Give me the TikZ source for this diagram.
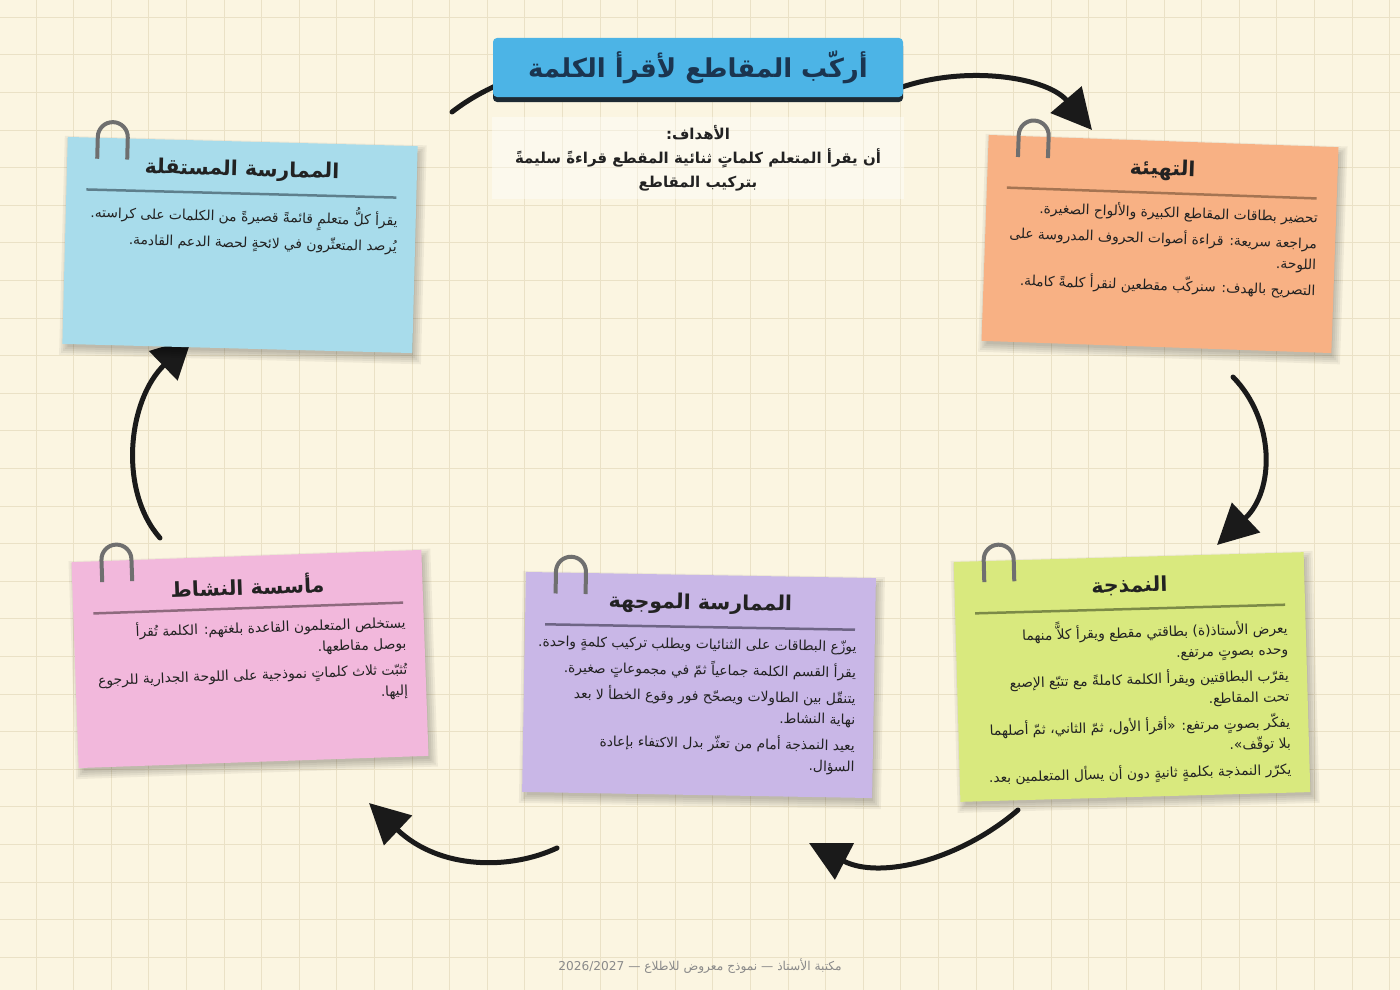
\documentclass[tikz,border=0pt]{standalone}
\usepackage{fontspec}
\setmainfont{DejaVu Sans}
\newfontfamily\ar[Script=Arabic]{DejaVu Sans}
\TeXXeTstate=1
\usetikzlibrary{arrows.meta}
\definecolor{bg}{HTML}{FBF5E1}
\definecolor{gridc}{HTML}{EAE1C6}
\definecolor{ink}{HTML}{222222}
\definecolor{navy}{HTML}{1B3550}
\definecolor{bannerc}{HTML}{4CB4E6}
\definecolor{bannerdark}{HTML}{1E2A33}
\definecolor{arrowc}{HTML}{1A1A1A}
\definecolor{clipc}{HTML}{6F6F6F}
\definecolor{footc}{HTML}{8A8A8A}
\definecolor{cblue}{HTML}{A8DCEB}
\definecolor{rblue}{HTML}{5E7F8C}
\definecolor{corange}{HTML}{F8B184}
\definecolor{rorange}{HTML}{A57452}
\definecolor{cgreen}{HTML}{D9E97E}
\definecolor{rgreen}{HTML}{7C8A47}
\definecolor{cpurple}{HTML}{C9B7E7}
\definecolor{rpurple}{HTML}{6E6585}
\definecolor{cpink}{HTML}{F2B8DC}
\definecolor{rpink}{HTML}{8E6A7E}
\tikzset{
  card/.style={minimum width=350pt, inner sep=0pt, draw=none},
  softshadow/.style={fill=black, fill opacity=0.05, draw=none},
  cardtitle/.style={font=\ar\bfseries\fontsize{20.5}{24}\selectfont, text=ink, inner sep=0pt},
  cardbody/.style={font=\ar\fontsize{13.8}{21}\selectfont, text=ink, align=right, anchor=north east, inner sep=0pt},
  clipline/.style={draw=clipc, line width=4pt},
  rulestyle/.style={line width=2.5pt},
  flow/.style={line width=5pt, draw=arrowc, line cap=round, -{Triangle[length=40pt,width=40pt]}},
  flowplain/.style={line width=5pt, draw=arrowc, line cap=round},
  gridline/.style={draw=gridc, line width=0.9pt},
  banner/.style={fill=bannerc, minimum width=410pt, minimum height=59pt, rounded corners=4pt, inner sep=0pt,
    font=\ar\bfseries\fontsize{26}{30}\selectfont, text=navy},
  goalsbox/.style={fill=white, fill opacity=0.4, text opacity=1, minimum width=412pt, minimum height=82pt,
    align=center, font=\ar\bfseries\fontsize{15}{24}\selectfont, text=ink, inner sep=0pt},
  footer/.style={font=\ar\fontsize{12.2}{14}\selectfont, text=footc, inner sep=0pt}
}
% #1 name, #2 center, #3 angle, #4 half height, #5 fill, #6 rule colour, #7 title, #8 body
\newcommand{\StickyCard}[8]{%
\begin{scope}[shift={#2}, rotate=#3, transform shape]
  \foreach \s in {-2,0,2,4,6}
    \fill[softshadow] ({-175+3-\s},{-#4-5-\s}) rectangle ({175+3+\s},{#4-5+\s});
  \node[card, fill=#5, minimum height={2*#4}] (#1) at (0,0) {};
  \node[cardtitle] (#1-title) at (0,{#4-29}) {#7};
  \draw[rulestyle, draw=#6] (-155,{#4-52}) -- (155,{#4-52});
  \node[cardbody] (#1-body) at (157,{#4-63}) {#8};
  \draw[clipline] (-145,{#4-21}) -- (-145,{#4+1}) arc[start angle=180, end angle=0, radius=15] -- (-115,{#4-21});
\end{scope}}
\begin{document}
\begin{tikzpicture}[x=1pt,y=1pt]
\useasboundingbox (0,0) rectangle (1400,-990);
\fill[bg] (0,0) rectangle (1400,-990);
\foreach \i in {0,...,36} \draw[gridline] ({36+37.6*\i},0) -- ({36+37.6*\i},-990);
\foreach \j in {0,...,26} \draw[gridline] (0,{-17.3-37.6*\j}) -- (1400,{-17.3-37.6*\j});

% connector end points
\coordinate (a0s) at (452,-112);
\coordinate (a0e) at (520,-76);
\coordinate (a1s) at (880,-96);
\coordinate (a1e) at (1092,-130);
\coordinate (a2s) at (1233,-377);
\coordinate (a2e) at (1217,-545);
\coordinate (a3s) at (1018,-810);
\coordinate (a3e) at (809,-843);
\coordinate (a4s) at (557,-848);
\coordinate (a4e) at (369,-803);
\coordinate (a5s) at (160,-538);
\coordinate (a5e) at (192,-338);

\draw[flowplain] (a0s) .. controls (470,-98) and (492,-86) .. (a0e);
\draw[flow] (a1s) .. controls (950,-62) and (1045,-75) .. (a1e);
\draw[flow] (a2s) .. controls (1275,-420) and (1275,-490) .. (a2e);
\draw[flow] (a3s) .. controls (960,-860) and (880,-880) .. (a3e);
\draw[flow] (a4s) .. controls (510,-870) and (440,-870) .. (a4e);
\draw[flow] (a5s) .. controls (118,-490) and (128,-400) .. (a5e);

% title banner
\fill[bannerdark, rounded corners=4pt] (493,-42) rectangle (903,-102);
\node[banner] (title) at (698,-67.5) {\beginR أركّب المقاطع لأقرأ الكلمة\endR};

% goals
\node[goalsbox] (goals) at (698,-158) {\beginR الأهداف:\endR\\
\beginR أن يقرأ المتعلم كلماتٍ ثنائية المقطع قراءةً سليمةً\endR\\
\beginR بتركيب المقاطع\endR};

% cards
\StickyCard{warmup}{(1160,-244)}{-2}{103}{corange}{rorange}{\beginR التهيئة\endR}{%
\beginR تحضير بطاقات المقاطع الكبيرة والألواح الصغيرة.\endR\\[5pt]
\beginR مراجعة سريعة: قراءة أصوات الحروف المدروسة على\endR\\
\beginR اللوحة.\endR\\[5pt]
\beginR التصريح بالهدف: سنركّب مقطعين لنقرأ كلمةً كاملة.\endR}

\StickyCard{model}{(1132,-677)}{1.6}{120}{cgreen}{rgreen}{\beginR النمذجة\endR}{%
\beginR يعرض الأستاذ(ة) بطاقتي مقطع ويقرأ كلاًّ منهما\endR\\
\beginR وحده بصوتٍ مرتفع.\endR\\[5pt]
\beginR يقرّب البطاقتين ويقرأ الكلمة كاملةً مع تتبّع الإصبع\endR\\
\beginR تحت المقاطع.\endR\\[5pt]
\beginR يفكّر بصوتٍ مرتفع: «أقرأ الأول، ثمّ الثاني، ثمّ أصلهما\endR\\
\beginR بلا توقّف».\endR\\[5pt]
\beginR يكرّر النمذجة بكلمةٍ ثانيةٍ دون أن يسأل المتعلمين بعد.\endR}

\StickyCard{guided}{(699,-685)}{-1}{110}{cpurple}{rpurple}{\beginR الممارسة الموجهة\endR}{%
\beginR يوزّع البطاقات على الثنائيات ويطلب تركيب كلمةٍ واحدة.\endR\\[5pt]
\beginR يقرأ القسم الكلمة جماعياً ثمّ في مجموعاتٍ صغيرة.\endR\\[5pt]
\beginR يتنقّل بين الطاولات ويصحّح فور وقوع الخطأ لا بعد\endR\\
\beginR نهاية النشاط.\endR\\[5pt]
\beginR يعيد النمذجة أمام من تعثّر بدل الاكتفاء بإعادة\endR\\
\beginR السؤال.\endR}

\StickyCard{inst}{(250,-659)}{2}{103}{cpink}{rpink}{\beginR مأسسة النشاط\endR}{%
\beginR يستخلص المتعلمون القاعدة بلغتهم: الكلمة تُقرأ\endR\\
\beginR بوصل مقاطعها.\endR\\[5pt]
\beginR تُثبّت ثلاث كلماتٍ نموذجية على اللوحة الجدارية للرجوع\endR\\
\beginR إليها.\endR}

\StickyCard{indep}{(240,-245)}{-1.5}{103.5}{cblue}{rblue}{\beginR الممارسة المستقلة\endR}{%
\beginR يقرأ كلُّ متعلمٍ قائمةً قصيرةً من الكلمات على كراسته.\endR\\[5pt]
\beginR يُرصد المتعثّرون في لائحةٍ لحصة الدعم القادمة.\endR}

% footer
\node[footer] (foot) at (700,-966) {\beginR مكتبة الأستاذ — نموذج معروض للاطلاع — \beginL 2026/2027\endL\endR};
\end{tikzpicture}
\end{document}
